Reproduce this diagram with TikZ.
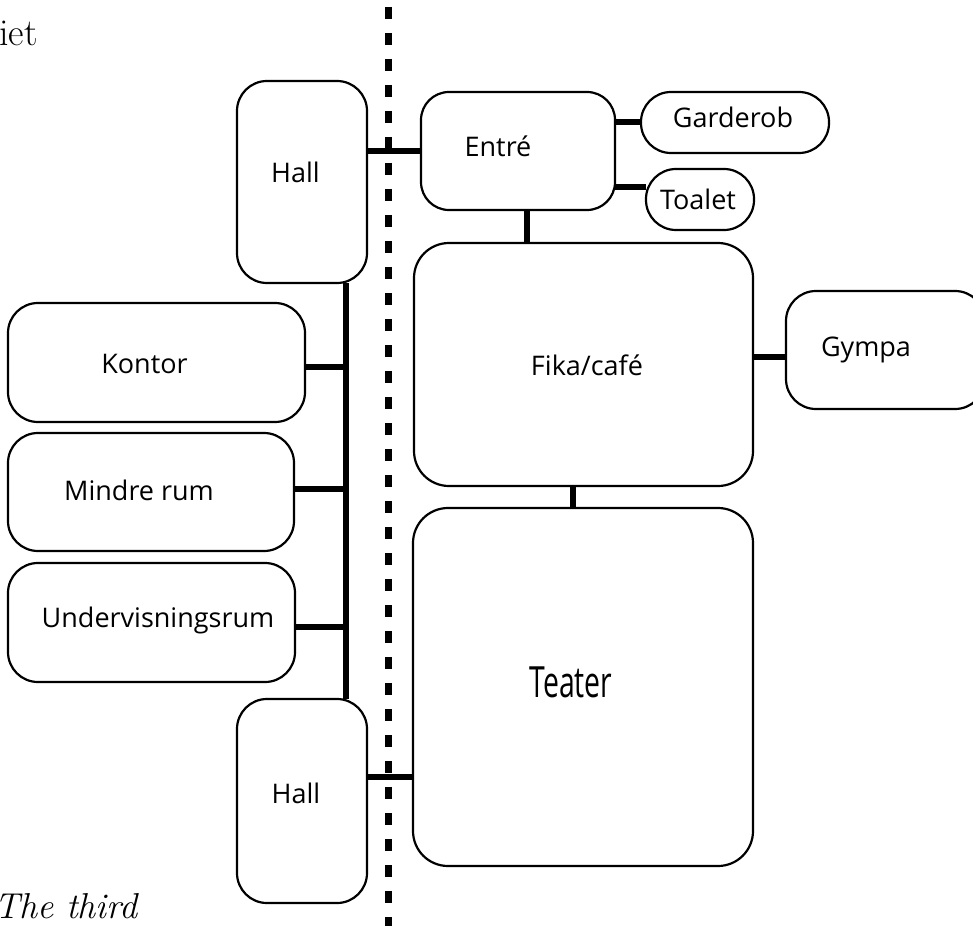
\documentclass[tikz,border=0pt]{standalone}
\usepackage{fontspec}
\newfontfamily\labfont{Open Sans}
\newfontfamily\condfont[FakeStretch=0.66]{Open Sans}
\begin{document}
\begin{tikzpicture}[x=1pt,y=-1pt,
  room/.style={draw=black, line width=2.2pt, rounded corners=#1, inner sep=0pt, outer sep=0pt},
  room/.default=30pt,
  lab/.style={font=\labfont\fontsize{27}{30}\selectfont, anchor=base, inner sep=0pt},
  link/.style={line width=6.5pt},
  sep/.style={line width=7pt, dash pattern=on 12pt off 14pt},
  ]
\useasboundingbox (0,0) rectangle (973,925);

% rooms
\node[room, minimum width=130pt, minimum height=202pt] (hallA) at (302,182) {};
\node[room=28pt, minimum width=194pt, minimum height=118pt] (entre) at (518,151) {};
\node[room, minimum width=188pt, minimum height=61pt] (garderob) at (735,122.5) {};
\node[room, minimum width=108pt, minimum height=61pt] (toalet) at (700,199.5) {};
\node[room=35pt, minimum width=339pt, minimum height=243pt] (fika) at (583.5,364.5) {};
\node[room, minimum width=199pt, minimum height=118pt] (gympa) at (885.5,350) {};
\node[room=35pt, minimum width=340pt, minimum height=358pt] (teater) at (583,687) {};
\node[room, minimum width=297pt, minimum height=119pt] (kontor) at (156.5,362.5) {};
\node[room, minimum width=286pt, minimum height=118pt] (mindre) at (151,492) {};
\node[room, minimum width=287pt, minimum height=119pt] (underv) at (151.5,622.5) {};
\node[room, minimum width=130pt, minimum height=204pt] (hallB) at (302,801) {};

% labels
\node[lab] (tHallA) at (295.5,183) {Hall};
\node[lab] (tEntre) at (498,157) {Entré};
\node[lab] (tGard) at (733,128) {Garderob};
\node[lab] (tToal) at (698,210) {Toalet};
\node[lab] (tFika) at (587,375) {Fika/café};
\node[lab] (tGympa) at (866,356) {Gympa};
\node[lab] (tKontor) at (144.5,373) {Kontor};
\node[lab] (tMindre) at (139,500) {Mindre rum};
\node[lab] (tUnderv) at (158,627) {Undervisningsrum};
\node[lab] (tHallB) at (296,803) {Hall};
\node[anchor=base, inner sep=0pt, font=\condfont\fontsize{43}{46}\selectfont] (tTeater) at (571,697) {Teater};

% serif fragments of surrounding text
\node[anchor=base west, inner sep=0pt, font=\fontsize{38}{42}\selectfont] (tIet) at (-1,46) {iet};
\node[anchor=base west, inner sep=0pt, font=\itshape\fontsize{36}{40}\selectfont] (tThird) at (-6,918) {The third};

% helper coordinates
\coordinate (sp) at (346,0);
\coordinate (yK) at (0,367);
\coordinate (yM) at (0,489);
\coordinate (yU) at (0,627);
\coordinate (yT) at (0,777);
\coordinate (yG) at (0,122);
\coordinate (yTo) at (0,187);
\coordinate (yGy) at (0,357);
\coordinate (xEF) at (527,0);
\coordinate (xFT) at (573,0);
\coordinate (dTop) at (388,7);
\coordinate (dBot) at (388,935);

% links
\draw[link] (hallA.south -| sp) -- (hallB.north -| sp);
\draw[link] (kontor.east |- yK) -- (sp |- yK);
\draw[link] (mindre.east |- yM) -- (sp |- yM);
\draw[link] (underv.east |- yU) -- (sp |- yU);
\draw[link] (hallA.east |- entre.west) -- (entre.west);
\draw[link] (hallB.east |- yT) -- (teater.west |- yT);
\draw[link] (entre.east |- yG) -- (garderob.west |- yG);
\draw[link] (entre.east |- yTo) -- (toalet.west |- yTo);
\draw[link] (entre.south -| xEF) -- (fika.north -| xEF);
\draw[link] (fika.south -| xFT) -- (teater.north -| xFT);
\draw[link] (fika.east |- yGy) -- (gympa.west |- yGy);

% separator
\draw[sep] (dTop) -- (dBot);
\end{tikzpicture}
\end{document}
